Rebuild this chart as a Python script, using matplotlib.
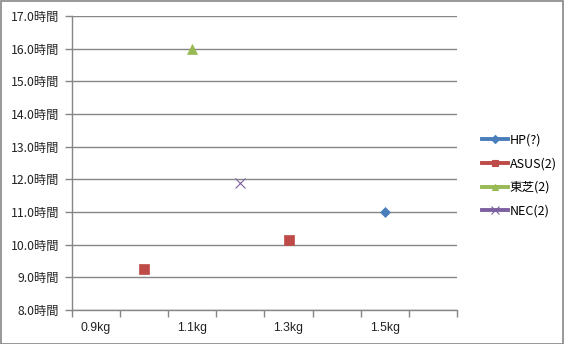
import matplotlib
matplotlib.use("Agg")
import matplotlib.pyplot as plt
from matplotlib.lines import Line2D
from matplotlib.patches import Rectangle

plt.rcParams['font.family'] = ['Noto Sans CJK JP', 'DejaVu Sans']

series_names = ["HP(?)", "ASUS(2)", "東芝(2)", "NEC(2)"]
hp_x, hp_y = [1.5], [11.0]
asus_x, asus_y = [1.0, 1.3], [9.25, 10.13]
toshiba_x, toshiba_y = [1.1], [16.0]
nec_x, nec_y = [1.2], [11.9]
colors = ["#4A7EBB", "#BE4B48", "#98B954", "#7D60A0"]
markers = ["D", "s", "^", "x"]
msizes = [5, 6.5, 6.5, 7]

x_labels = ["0.9kg", "1.1kg", "1.3kg", "1.5kg"]
x_label_pos = [0.9, 1.1, 1.3, 1.5]
y_ticks = [8, 9, 10, 11, 12, 13, 14, 15, 16, 17]

fig = plt.figure(figsize=(5.64, 3.44), dpi=100)
ax = fig.add_axes([72/564, 1-310/344, (457-72)/564, (310-16)/344])

data = [(hp_x, hp_y), (asus_x, asus_y), (toshiba_x, toshiba_y), (nec_x, nec_y)]
for (xs, ys), c, m, s in zip(data, colors, markers, msizes):
    kw = dict(color=c, markeredgecolor=c)
    if m == "x":
        kw["markeredgewidth"] = 0.8
    else:
        kw["markeredgewidth"] = 0.5
    ax.plot(xs, ys, linestyle="none", marker=m, markersize=s, zorder=3, **kw)

ax.set_xlim(0.85, 1.65)
ax.set_ylim(8, 17)
boundaries = [0.85 + 0.1*i for i in range(9)]
ax.set_xticks(boundaries)
ax.set_xticklabels([])
ax.set_xticks(x_label_pos, minor=True)
ax.set_xticklabels(x_labels, minor=True, fontsize=8.8, color="#222222",
                   family=['Liberation Sans', 'DejaVu Sans'])
ax.tick_params(axis='x', which='minor', length=0, pad=9)
ax.tick_params(axis='x', which='major', length=5, color="#868686", width=1, direction='out')

ax.set_yticks(y_ticks)
ax.set_yticklabels([f"{v:.1f}時間" for v in y_ticks], fontsize=8.8, color="#222222")
ax.tick_params(axis='y', length=5, color="#868686", width=1, direction='out', pad=4)

ax.grid(axis='y', color="#868686", linewidth=1)
ax.set_axisbelow(True)
for side in ["top", "right"]:
    ax.spines[side].set_visible(False)
ax.spines["left"].set_color("#868686")
ax.spines["bottom"].set_color("#868686")
ax.spines["left"].set_linewidth(1)
ax.spines["bottom"].set_linewidth(1)

handles = [Line2D([0], [0], color=c, linewidth=2.8, marker=m, markersize=s*0.75,
                  markeredgecolor=c, markeredgewidth=0.8)
           for c, m, s in zip(colors, markers, msizes)]
leg = fig.legend(handles, series_names, loc="upper left",
                 bbox_to_anchor=(473/564, 1-125/344), frameon=False,
                 fontsize=9, handlelength=2.1, handletextpad=0.15,
                 labelspacing=0.85, borderpad=0.2)

fig.patches.append(Rectangle((0.5/564, 0.5/344), 1-1.5/564, 1-1.5/344,
                             transform=fig.transFigure, fill=False,
                             edgecolor="#868686", linewidth=1.2))

fig.savefig("out.png", dpi=100)
